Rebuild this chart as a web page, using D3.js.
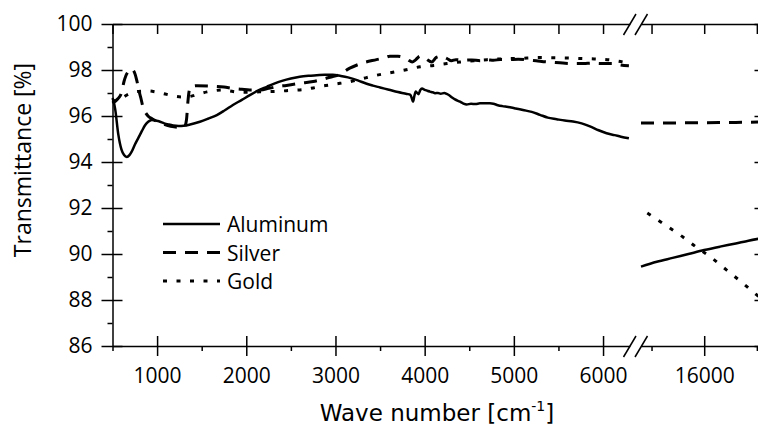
<!DOCTYPE html>
<html>
<head>
<meta charset="utf-8">
<script src="https://cdn.jsdelivr.net/npm/d3@7"></script>
<style>
  body { margin: 0; background: #fff; }
  svg text { font-family: "Open Sans", sans-serif; fill: #000; }
  .axis path, .axis line { stroke: #000; stroke-width: 1.5; }
  .axis text { font-size: 21px; font-family: "Open Sans", sans-serif; }
</style>
</head>
<body>
<svg id="chart" width="758" height="425"></svg>
<script>
/** DATA **/
var yTicks = [86, 88, 90, 92, 94, 96, 98, 100];
var yMinor = [87, 89, 91, 93, 95, 97, 99];
var xTicksLow = [1000, 2000, 3000, 4000, 5000, 6000];
var xMinorLow = [500, 1500, 2500, 3500, 4500, 5500];
var xTicksHigh = [16000];
var xMinorHigh = [15500, 16500];

var seriesNames = ['Aluminum', 'Silver', 'Gold'];

// aluminum, low range
var alWn = [500, 515, 530, 565, 600, 630, 660, 690, 715, 750, 790, 830, 865, 900, 940, 980, 1020, 1080, 1130, 1180,
   1240, 1300, 1370, 1480, 1570, 1670, 1760, 1850, 1950, 2040, 2130, 2230, 2320, 2410, 2500, 2600, 2700, 2790, 2880, 2970,
   3060, 3140, 3250, 3350, 3420, 3500, 3600, 3700, 3800, 3840, 3855, 3870, 3885, 3900, 3930, 3950, 3970, 4000, 4030, 4060,
   4090, 4116, 4150, 4180, 4220, 4247, 4275, 4303, 4340, 4396, 4430, 4471, 4520, 4570, 4620, 4680, 4732, 4770, 4820, 4870,
   4919, 4970, 5020, 5102, 5200, 5293, 5380, 5480, 5570, 5663, 5760, 5853, 5950, 6040, 6130, 6200, 6290];
var alT = [96.78, 96.6, 96.3, 95.2, 94.55, 94.3, 94.22, 94.3, 94.45, 94.75, 95.05, 95.35, 95.6, 95.75, 95.83, 95.8, 95.77, 95.68, 95.63, 95.59,
   95.57, 95.58, 95.63, 95.75, 95.88, 96.04, 96.25, 96.48, 96.7, 96.91, 97.1, 97.27, 97.42, 97.54, 97.63, 97.71, 97.75, 97.77, 97.79, 97.79,
   97.74, 97.68, 97.55, 97.4, 97.32, 97.24, 97.14, 97.04, 96.96, 96.92, 96.78, 96.62, 96.88, 97.06, 96.95, 97.12, 97.2, 97.14, 97.1, 97.06,
   97.03, 96.99, 97.0, 96.97, 97.0, 96.96, 96.9, 96.82, 96.72, 96.62, 96.55, 96.5, 96.53, 96.52, 96.55, 96.55, 96.55, 96.53, 96.47, 96.43,
   96.4, 96.37, 96.33, 96.26, 96.18, 96.05, 95.93, 95.86, 95.8, 95.76, 95.68, 95.55, 95.38, 95.25, 95.17, 95.1, 95.03];

// silver, low range
var agWn = [500, 560, 600, 629, 650, 674, 705, 730, 755, 775, 800, 820, 842, 870, 898, 943, 990, 1050, 1111, 1190,
   1279, 1310, 1330, 1345, 1360, 1375, 1450, 1600, 1750, 1850, 1950, 2040, 2150, 2250, 2350, 2450, 2600, 2750, 2880, 2970,
   3030, 3160, 3300, 3460, 3550, 3610, 3700, 3760, 3810, 3860, 3900, 3950, 4000, 4030, 4080, 4130, 4180, 4250, 4300, 4350,
   4430, 4530, 4620, 4700, 4770, 4850, 4930, 5050, 5150, 5250, 5370, 5440, 5550, 5670, 5780, 5880, 5970, 6120, 6190, 6290];
var agT = [96.55, 96.75, 97.0, 97.5, 97.75, 97.92, 98.05, 98.0, 97.8, 97.5, 97.05, 96.75, 96.38, 96.15, 96.0, 95.88, 95.78, 95.68, 95.6, 95.53,
   95.5, 95.55, 95.85, 96.6, 97.1, 97.28, 97.32, 97.3, 97.26, 97.2, 97.16, 97.13, 97.13, 97.2, 97.28, 97.33, 97.42, 97.5, 97.62, 97.72,
   97.78, 98.08, 98.3, 98.45, 98.53, 98.6, 98.6, 98.55, 98.45, 98.35, 98.45, 98.6, 98.55, 98.45, 98.35, 98.55, 98.6, 98.5, 98.4, 98.45,
   98.42, 98.44, 98.4, 98.44, 98.42, 98.46, 98.45, 98.47, 98.44, 98.4, 98.35, 98.33, 98.3, 98.28, 98.28, 98.3, 98.28, 98.28, 98.22, 98.18];

// gold, low range
var auWn = [500, 540, 603, 680, 752, 820, 898, 980, 1051, 1130, 1200, 1280, 1350, 1420, 1490, 1560, 1640, 1725, 1800, 1880,
   1960, 2050, 2150, 2250, 2350, 2450, 2550, 2650, 2750, 2850, 2950, 3050, 3150, 3280, 3420, 3610, 3780, 3950, 4100, 4250,
   4400, 4550, 4700, 4850, 5000, 5150, 5300, 5450, 5600, 5750, 5900, 6050, 6150, 6290];
var auT = [96.6, 96.7, 96.78, 96.95, 97.05, 97.08, 97.09, 97.05, 96.99, 96.92, 96.86, 96.83, 96.84, 96.9, 96.98, 97.05, 97.1, 97.13, 97.1, 97.05,
   97.03, 97.03, 97.05, 97.06, 97.07, 97.1, 97.12, 97.15, 97.22, 97.3, 97.36, 97.42, 97.48, 97.6, 97.74, 97.88, 98.0, 98.14, 98.2, 98.28,
   98.35, 98.4, 98.45, 98.48, 98.5, 98.52, 98.54, 98.53, 98.52, 98.5, 98.48, 98.45, 98.4, 98.3];

// high range (after the break)
var alWnHigh = [15400, 15550, 15700, 15850, 16000, 16150, 16300, 16420, 16525];
var alTHigh = [89.45, 89.66, 89.83, 90.0, 90.17, 90.32, 90.46, 90.58, 90.67];
var agWnHigh = [15400, 15700, 16000, 16300, 16525];
var agTHigh = [95.7, 95.7, 95.71, 95.72, 95.74];
var auWnHigh = [15460, 15618, 15770, 15919, 16062, 16214, 16362, 16499, 16525];
var auTHigh = [91.78, 91.3, 90.83, 90.32, 89.86, 89.3, 88.75, 88.22, 88.12];

/** LAYOUT **/
var plotTop = 24, plotBottom = 346,
   plotLeft = 112.5, breakL = 629.8, breakR = 641, plotRight = 759.5;

var svg = d3.select('#chart');

var y = d3.scaleLinear().domain([86, 100]).range([plotBottom, plotTop]);
var xLow = d3.scaleLinear().domain([500, 6300]).range([plotLeft, breakL]);
var xHigh = d3.scaleLinear().domain([15400, 16525]).range([breakR, plotRight]);

function zip(a, b){
   return a.map(function(d, i){ return [d, b[i]]; });
}

var styles = [
   { width: 2.5, dash: null },
   { width: 3, dash: '13,9' },
   { width: 3, dash: '4,9.5' }
];

var lowData = [zip(alWn, alT), zip(agWn, agT), zip(auWn, auT)];
var highData = [zip(alWnHigh, alTHigh), zip(agWnHigh, agTHigh), zip(auWnHigh, auTHigh)];

function drawSeries(data, xs){
   var line = d3.line()
      .x(function(d){ return xs(d[0]); })
      .y(function(d){ return y(d[1]); })
      .curve(d3.curveMonotoneX);
   svg.append('g').selectAll('path')
      .data(data)
      .enter()
      .append('path')
      .attr('d', line)
      .attr('fill', 'none')
      .attr('stroke', '#000')
      .attr('stroke-width', function(d, i){ return styles[i].width; })
      .attr('stroke-dasharray', function(d, i){ return styles[i].dash; });
}
drawSeries(lowData, xLow);
drawSeries(highData, xHigh);

/** AXES **/
[[xLow, xTicksLow, xMinorLow], [xHigh, xTicksHigh, xMinorHigh]].forEach(function(s){
   // bottom, major ticks cross the axis
   var g = svg.append('g').attr('class', 'axis')
      .attr('transform', 'translate(0,' + plotBottom + ')')
      .call(d3.axisBottom(s[0]).tickValues(s[1]).tickSizeInner(10).tickSizeOuter(0).tickPadding(12).tickFormat(d3.format('d')));
   g.selectAll('.tick line').attr('y1', -10);
   svg.append('g').attr('class', 'axis')
      .attr('transform', 'translate(0,' + plotBottom + ')')
      .call(d3.axisBottom(s[0]).tickValues(s[2]).tickSize(5).tickFormat(''))
      .select('.domain').remove();
   // top, ticks inward
   svg.append('g').attr('class', 'axis')
      .attr('transform', 'translate(0,' + plotTop + ')')
      .call(d3.axisTop(s[0]).tickValues(s[1].concat(s[2])).tickSizeInner(-10).tickSizeOuter(0).tickFormat(''));
});

// left
var gl = svg.append('g').attr('class', 'axis')
   .attr('transform', 'translate(' + plotLeft + ',0)')
   .call(d3.axisLeft(y).tickValues(yTicks).tickSizeInner(11).tickSizeOuter(0).tickPadding(9));
gl.selectAll('.tick line').attr('x1', 10);
svg.append('g').attr('class', 'axis')
   .attr('transform', 'translate(' + plotLeft + ',0)')
   .call(d3.axisLeft(y).tickValues(yMinor).tickSize(5).tickFormat(''))
   .select('.domain').remove();

// right
svg.append('g').attr('class', 'axis')
   .attr('transform', 'translate(' + plotRight + ',0)')
   .call(d3.axisRight(y).tickValues(yTicks).tickSizeInner(-5).tickSizeOuter(0).tickFormat(''));

// break marks
[plotTop, plotBottom].forEach(function(yy){
   [0, 11.5].forEach(function(off){
      svg.append('line')
         .attr('x1', 623.5 + off).attr('y1', yy + 11)
         .attr('x2', 636 + off).attr('y2', yy - 10)
         .attr('stroke', '#000').attr('stroke-width', 1.5);
   });
});

/** TITLES **/
svg.append('text')
   .attr('transform', 'translate(31,160) rotate(-90)')
   .attr('text-anchor', 'middle')
   .style('font-size', '23px')
   .text('Transmittance [%]');

var xt = svg.append('text')
   .attr('x', 437).attr('y', 421)
   .attr('text-anchor', 'middle')
   .style('font-family', '"DejaVu Sans", sans-serif')
   .style('font-size', '23px');
xt.append('tspan').text('Wave number [cm');
xt.append('tspan').attr('dy', -10).style('font-size', '14px').text('-1');
xt.append('tspan').attr('dy', 10).text(']');

/** LEGEND **/
var leg = svg.append('g').selectAll('g')
   .data(seriesNames)
   .enter()
   .append('g')
   .attr('transform', function(d, i){ return 'translate(0,' + (224 + i * 28.5) + ')'; });
leg.append('line')
   .attr('x1', 163).attr('x2', 220)
   .attr('stroke', '#000')
   .attr('stroke-width', function(d, i){ return styles[i].width; })
   .attr('stroke-dasharray', function(d, i){ return styles[i].dash; });
leg.append('text')
   .attr('x', 227).attr('y', 8)
   .style('font-size', '21px')
   .text(function(d){ return d; });
</script>
</body>
</html>
